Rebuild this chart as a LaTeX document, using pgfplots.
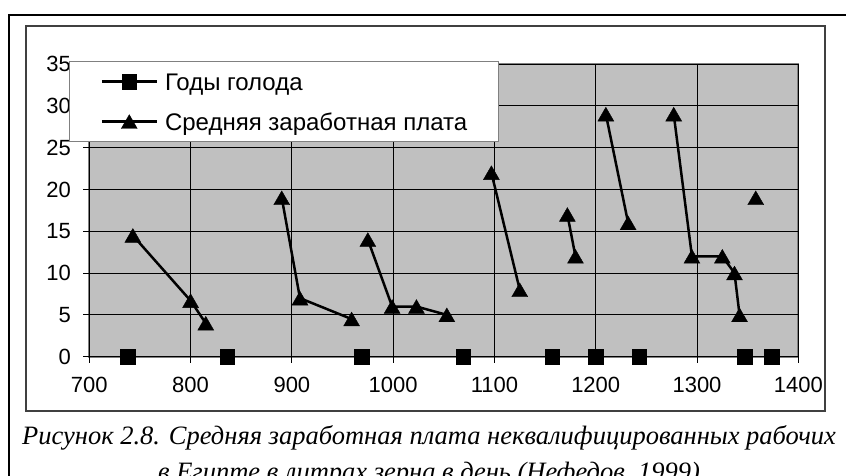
\documentclass[border=0pt]{standalone}
\usepackage{fontspec}
\setmainfont{Liberation Serif}
\newfontfamily\arialf{Liberation Sans}
\usepackage{pgfplots}
\pgfplotsset{compat=1.18}
\definecolor{plotbg}{RGB}{192,192,192}
\definecolor{borderg}{RGB}{128,128,128}
\definecolor{frameg}{RGB}{64,64,64}
\pgfplotsset{
  sqlegend/.style={legend image code/.code={\draw[black, line width=2.5pt] (0pt,0pt) -- (55pt,0pt);
    \draw[##1, mark repeat=2, mark phase=2] plot coordinates {(0pt,0pt) (27.5pt,0pt) (55pt,0pt)};}},
  trlegend/.style={legend image code/.code={\draw[##1, mark repeat=2, mark phase=2] plot coordinates {(0pt,0pt) (27.5pt,0pt) (55pt,0pt)};}},
}
\begin{document}
\begin{tikzpicture}
\clip (0pt,0pt) rectangle (846pt,475pt);
\draw[line width=1.7pt] (9pt,-20pt) -- (9pt,460pt) -- (870pt,460pt);
\draw[frameg, line width=1.2pt, fill=white] (26pt,64pt) rectangle (825pt,449pt);
\begin{axis}[
  at={(89.3pt,118.3pt)}, anchor=south west,
  scale only axis, width=709pt, height=292.7pt,
  xmin=700, xmax=1400, ymin=0, ymax=35,
  xtick={700,800,...,1400}, ytick={0,5,...,35},
  grid=major, grid style={black, line width=0.8pt},
  axis x line*=bottom, axis y line*=left,
  axis line style={black, line width=1pt},
  axis background/.style={fill=plotbg, draw=borderg, line width=2pt},
  tick align=outside, major tick length=6pt, tick style={black, line width=1pt},
  tick label style={font=\arialf\fontsize{22}{26}\selectfont},
  yticklabel style={anchor=east, inner sep=0pt, xshift=-12.3pt},
  xticklabel style={anchor=north, inner sep=0pt, yshift=-14pt},
  /pgf/number format/assume math mode=true,
  /pgf/number format/1000 sep={},
  clip=false,
  unbounded coords=jump,
  legend style={at={(axis description cs:-0.0286,1.010)}, anchor=north west,
    fill=white, draw=borderg, line width=1pt,
    inner xsep=31pt, inner ysep=4pt, row sep=8pt, column sep=7pt,
    font=\arialf\fontsize{24}{28}\selectfont,
    nodes={inner sep=0pt, text height=25pt, text depth=7pt}},
  legend cell align=left,
]
\addplot[only marks, mark=square*, mark size=7.3pt, mark options={fill=black, draw=black, line width=0.4pt}, sqlegend]
  table {
x y
738 0
836 0
969 0
1069 0
1157 0
1200 0
1243 0
1347 0
1374 0
};
\addlegendentry{Годы голода}
\addplot[black, line width=2.5pt, mark=triangle*, mark size=9.2pt,
  mark options={solid, fill=black, draw=black, line width=0.4pt, yshift=-2.3pt}, trlegend]
  table {
x y
743 14.5
800 6.7
815 4
815 nan
890 19
908 7
959 4.5
959 nan
975 14
999 6
1023 6
1053 5
1053 nan
1097 22
1125 8
1125 nan
1172 17
1180 12
1180 nan
1210 29
1232 16
1232 nan
1277 29
1295 12
1325 12
1337 10
1342 5
1342 nan
1358 19
};
\addlegendentry{Средняя заработная плата}
\end{axis}
\node[font=\itshape\fontsize{26.5}{30}\selectfont, anchor=base] at (429pt,30.7pt) {Рисунок 2.8. Средняя заработная плата неквалифицированных рабочих};
\node[font=\itshape\fontsize{26.5}{30}\selectfont, anchor=base] at (429pt,-5.6pt) {в Египте в литрах зерна в день (Нефедов, 1999)};
\end{tikzpicture}
\end{document}
